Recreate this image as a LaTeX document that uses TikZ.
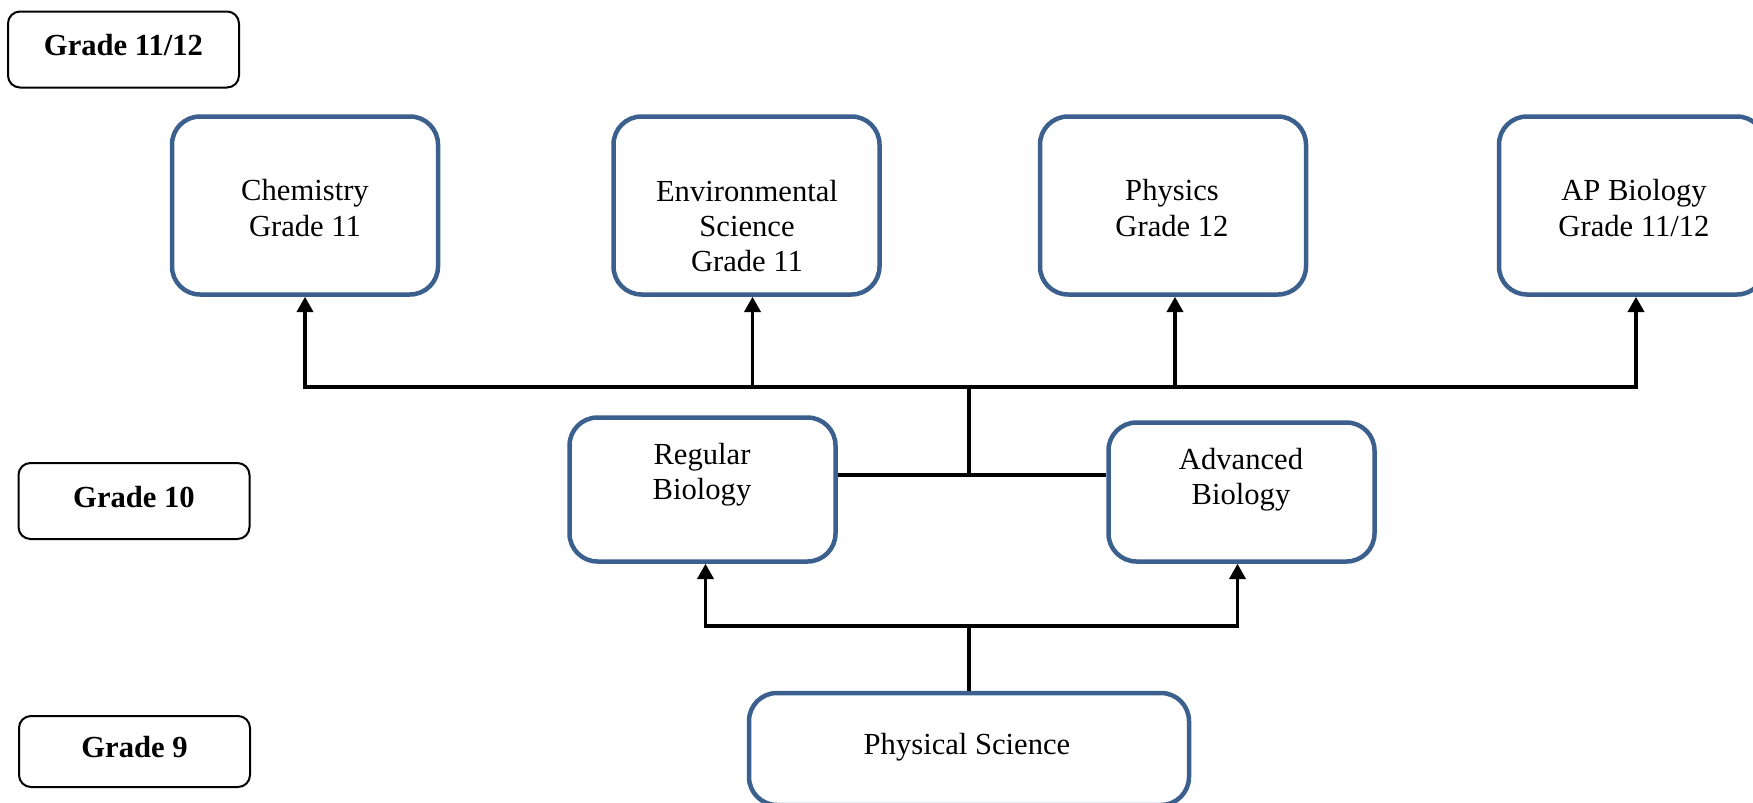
\documentclass[tikz,border=0pt]{standalone}
\usepackage{fontspec}
\setmainfont{Liberation Serif}
\usetikzlibrary{arrows.meta}
\newlength\px
\setlength\px{0.392pt}
\definecolor{boxblue}{RGB}{59,96,142}
\tikzset{
	grade/.style={draw, line width=2\px, rounded corners=12\px, minimum width=231\px, minimum height=76\px, inner sep=0pt, text height=8.5pt, text depth=3.5pt, font=\fontsize{12}{14}\selectfont\bfseries},
	course/.style={draw=boxblue, line width=4.5\px, rounded corners=28\px, minimum width=266\px, minimum height=178\px, inner sep=0pt},
	ctext/.style={align=center, inner sep=0pt, font=\fontsize{12}{13.8}\selectfont},
	link/.style={line width=3.5\px},
	arr/.style={link, -{Triangle[length=6pt, width=6.3pt]}}
}
\begin{document}
\begin{tikzpicture}[x=0.392pt, y=-0.392pt]
	\clip (0,0) rectangle (1753,803);
	\node[grade] (g12) at (123.5,49.5) {Grade 11/12};
	\node[grade] (g10) at (134,501) {Grade 10};
	\node[grade, minimum height=71\px] (g9) at (134.5,751.5) {Grade 9};
	\node[course] (chem) at (305,205.5) {};
	\node[course] (env) at (746.5,205.5) {};
	\node[course] (phys) at (1173,205.5) {};
	\node[course] (apbio) at (1632,205.5) {};
	\node[ctext] (chemtext) at (305,208) {Chemistry\\Grade 11};
	\node[ctext] (envtext) at (747,226) {Environmental\\Science\\Grade 11};
	\node[ctext] (phystext) at (1172,208) {Physics\\Grade 12};
	\node[ctext] (apbiotext) at (1634,208) {AP Biology\\Grade 11/12};
	\node[course, minimum height=144\px] (regbio) at (702.5,489.5) {};
	\node[course, minimum height=139\px] (advbio) at (1241.5,492) {};
	\node[ctext] (regbiotext) at (702,475) {Regular\\Biology};
	\node[ctext] (advbiotext) at (1241,480) {Advanced\\Biology};
	\node[course, minimum width=440\px, minimum height=112\px] (physci) at (969,749) {};
	\node[ctext] (physcitext) at (967,747) {Physical Science};
	\coordinate (topbus) at (969,387);
	\coordinate (midbus) at (969,475);
	\coordinate (lowbus) at (969,626);
	\draw[link] (physci.north) -- (lowbus);
	\draw[arr] (lowbus) -| ([xshift=3\px]regbio.south);
	\draw[arr] (lowbus) -| ([xshift=-4\px]advbio.south);
	\draw[link] (regbio.east |- midbus) -- (advbio.west |- midbus);
	\draw[link] (midbus) -- (topbus);
	\draw[arr] (topbus) -| (chem.south);
	\draw[arr] (topbus) -| ([xshift=6\px]env.south);
	\draw[arr] (topbus) -| ([xshift=2\px]phys.south);
	\draw[arr] (topbus) -| ([xshift=4\px]apbio.south);
\end{tikzpicture}
\end{document}
